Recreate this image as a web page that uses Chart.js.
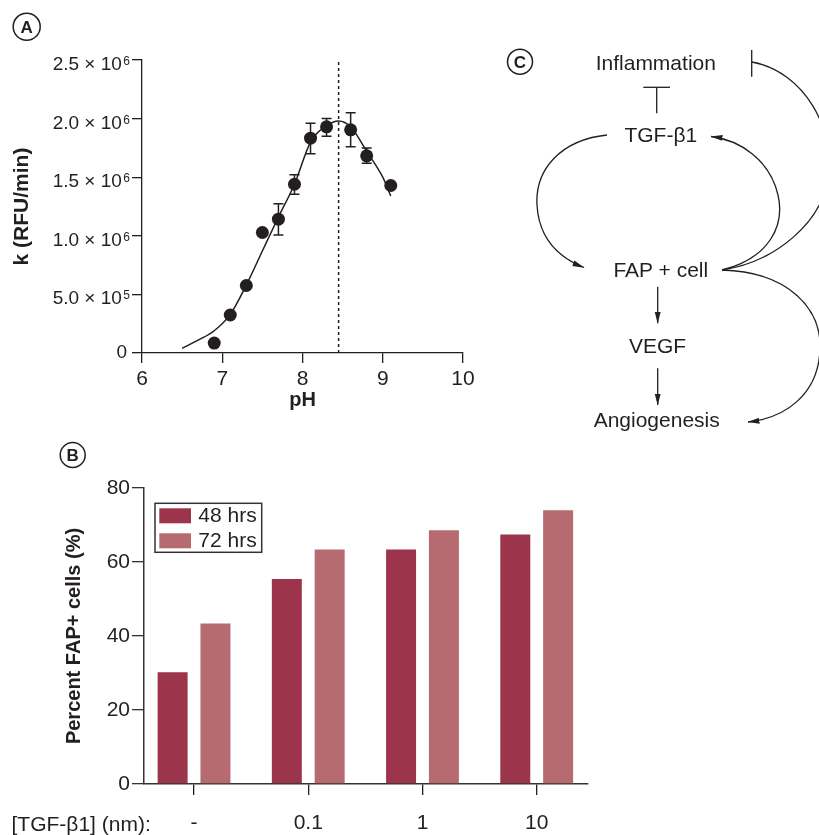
<!DOCTYPE html>
<html>
<head>
<meta charset="utf-8">
<script src="https://cdn.jsdelivr.net/npm/chart.js@4.4.1/dist/chart.umd.min.js"></script>
<style>
  body { margin: 0; background: #fff; }
  #page { position: relative; width: 819px; height: 835px; overflow: hidden; background: #fff; }
  #page canvas { position: absolute; left: 0; }
  #phChart { top: 0; }
  #fapChart { top: 440px; }
  #diagram { position: absolute; left: 0; top: 0; pointer-events: none; }
  #diagram text { font-family: "Liberation Sans", Arial, Helvetica, sans-serif; fill: #231f20; }
</style>
</head>
<body>
<div id="page">
  <canvas id="phChart" width="480" height="420"></canvas>
  <canvas id="fapChart" width="620" height="395"></canvas>

  <svg id="diagram" width="819" height="835" viewBox="0 0 819 835">
    <defs>
      <marker id="head" viewBox="0 0 12 12" refX="11.5" refY="6" markerWidth="12" markerHeight="12"
              markerUnits="userSpaceOnUse" orient="auto">
        <path d="M0,3 L12,6 L0,9 z" fill="#231f20"/>
      </marker>
    </defs>

    <!-- panel letters -->
    <g stroke="#231f20" stroke-width="1.5" fill="none">
      <circle cx="26.7" cy="26.7" r="13.5"/>
      <circle cx="72.7" cy="455" r="12.5"/>
      <circle cx="520" cy="61.7" r="12.5"/>
    </g>
    <g font-size="17" font-weight="bold" text-anchor="middle" dominant-baseline="central">
      <text x="26.7" y="27.5">A</text>
      <text x="72.7" y="455.8">B</text>
      <text x="520" y="62.5">C</text>
    </g>

    <!-- x label for panel B -->
    <text x="11.5" y="831" font-size="21">[TGF-β1] (nm):</text>

    <!-- panel C -->
    <g font-size="21" text-anchor="middle">
      <text x="655.8" y="70">Inflammation</text>
      <text x="660.8" y="141.7">TGF-β1</text>
      <text x="660.8" y="276.7">FAP + cell</text>
      <text x="657.5" y="353.3">VEGF</text>
      <text x="656.7" y="426.7">Angiogenesis</text>
    </g>
    <g stroke="#231f20" stroke-width="1.3" fill="none">
      <line x1="643.3" y1="87.3" x2="670" y2="87.3"/>
      <line x1="656.7" y1="87.3" x2="656.7" y2="113.3"/>
      <line x1="751.7" y1="50" x2="751.7" y2="76.7"/>
      <path d="M752,62 C805,72 835,130 828,175 C824,222 775,262 722,270"/>
      <path d="M722,270 C770,258 785,225 778,195 C770,160 740,140 711,136.5" marker-end="url(#head)"/>
      <path d="M607,135 C560,140 535,170 537,205 C539,240 560,258 584,267.5" marker-end="url(#head)"/>
      <path d="M722,270 C790,272 822,310 820,350 C818,395 785,418 748,422" marker-end="url(#head)"/>
      <line x1="657.7" y1="286.7" x2="657.7" y2="323.3" marker-end="url(#head)"/>
      <line x1="657.7" y1="368.3" x2="657.7" y2="405" marker-end="url(#head)"/>
    </g>
  </svg>
</div>

<script>
// Panel A: rate vs pH (measured points, error bars, fitted curve)
const phValues = [6.9, 7.1, 7.3, 7.5, 7.7, 7.9, 8.1, 8.3, 8.6, 8.8, 9.1];
const rateValues = [0.085e6, 0.324e6, 0.576e6, 1.028e6, 1.142e6, 1.44e6, 1.833e6, 1.93e6, 1.904e6, 1.682e6, 1.429e6];
const rateErrLow = [0, 0, 0, 0, 0.136e6, 0.085e6, 0.133e6, 0.08e6, 0.144e6, 0.062e6, 0];
const rateErrHigh = [0, 0, 0, 0, 0.131e6, 0.08e6, 0.127e6, 0.07e6, 0.146e6, 0.068e6, 0];
const fitPH = [6.5, 6.7, 6.9, 7.1, 7.3, 7.5, 7.7, 7.9, 8.1, 8.3, 8.45, 8.6, 8.8, 9.0, 9.1];
const fitRate = [0.04e6, 0.11e6, 0.19e6, 0.33e6, 0.58e6, 0.87e6, 1.16e6, 1.44e6, 1.80e6, 1.94e6, 1.98e6, 1.93e6, 1.72e6, 1.50e6, 1.34e6];
const optimumPH = 8.45;
const rateMax = 2.5e6;

// Panel B: percent FAP+ cells
const categories = ['-', '0.1', '1', '10'];
const hrs48 = [30.2, 55.4, 63.4, 67.4];
const hrs72 = [43.4, 63.4, 68.6, 74.0];

const ink = '#231f20';
const color48 = '#9c354c';
const color72 = '#b56b6f';

Chart.defaults.font.family = '"Liberation Sans", Arial, Helvetica, sans-serif';
Chart.defaults.color = ink;

const axisGrid = { drawOnChartArea: false, drawTicks: true, tickLength: 10, color: ink, lineWidth: 1.3 };
const axisBorder = { color: ink, width: 1.3 };

// y tick labels like 2.5×10⁶ with a real superscript
const sciTicks = {
    id: 'sciTicks',
    afterDraw(chart) {
        const scale = chart.scales.y;
        const ctx = chart.ctx;
        const right = scale.right - 12;
        ctx.save();
        ctx.fillStyle = ink;
        ctx.textAlign = 'right';
        scale.ticks.forEach(function (t) {
            const py = scale.getPixelForValue(t.value);
            if (t.value === 0) {
                ctx.font = '19px "Liberation Sans", Arial, sans-serif';
                ctx.textBaseline = 'middle';
                ctx.fillText('0', right - 3, py);
                return;
            }
            const exp = Math.floor(Math.log10(t.value) + 1e-9);
            const mant = (t.value / Math.pow(10, exp)).toFixed(1);
            ctx.textBaseline = 'alphabetic';
            ctx.font = '12px "Liberation Sans", Arial, sans-serif';
            ctx.fillText(String(exp), right, py + 5);
            const w = ctx.measureText(String(exp)).width;
            ctx.font = '19px "Liberation Sans", Arial, sans-serif';
            ctx.fillText(mant + ' × 10', right - w - 1.5, py + 10);
        });
        ctx.restore();
    }
};

const errorBars = {
    id: 'errorBars',
    beforeDatasetsDraw(chart) {
        const xs = chart.scales.x, ys = chart.scales.y, ctx = chart.ctx;
        ctx.save();
        ctx.strokeStyle = ink;
        ctx.lineWidth = 1.5;
        phValues.forEach(function (ph, i) {
            if (!rateErrLow[i] && !rateErrHigh[i]) return;
            const px = xs.getPixelForValue(ph);
            const top = ys.getPixelForValue(rateValues[i] + rateErrHigh[i]);
            const bot = ys.getPixelForValue(rateValues[i] - rateErrLow[i]);
            ctx.beginPath();
            ctx.moveTo(px, top); ctx.lineTo(px, bot);
            ctx.moveTo(px - 5, top); ctx.lineTo(px + 5, top);
            ctx.moveTo(px - 5, bot); ctx.lineTo(px + 5, bot);
            ctx.stroke();
        });
        ctx.restore();
    }
};

new Chart(document.getElementById('phChart'), {
    type: 'scatter',
    data: {
        datasets: [{
            label: 'k',
            data: phValues.map((x, i) => ({ x: x, y: rateValues[i] })),
            pointRadius: 6.5,
            pointBackgroundColor: ink,
            pointBorderWidth: 0,
            showLine: false
        }, {
            label: 'fit',
            data: fitPH.map((x, i) => ({ x: x, y: fitRate[i] })),
            showLine: true,
            pointRadius: 0,
            borderColor: ink,
            borderWidth: 1.5,
            cubicInterpolationMode: 'monotone'
        }, {
            label: 'optimum',
            data: [{ x: optimumPH, y: 0 }, { x: optimumPH, y: rateMax }],
            showLine: true,
            pointRadius: 0,
            borderColor: ink,
            borderWidth: 1.5,
            borderDash: [3, 3]
        }]
    },
    options: {
        responsive: false,
        animation: false,
        layout: { padding: { left: 0, top: 60, right: 17, bottom: 0 } },
        plugins: { legend: { display: false }, tooltip: { enabled: false } },
        scales: {
            x: {
                type: 'linear', min: 6, max: 10,
                afterFit: function (s) { s.height = 67; },
                ticks: { stepSize: 1, padding: 4, font: { size: 21 } },
                grid: axisGrid, border: axisBorder,
                title: { display: true, text: 'pH', font: { size: 20, weight: 'bold' }, padding: { top: 0, bottom: 8 } }
            },
            y: {
                min: 0, max: rateMax,
                afterFit: function (s) { s.width = 142; },
                ticks: { stepSize: 0.5e6, display: false },
                grid: axisGrid, border: axisBorder,
                title: { display: true, text: 'k (RFU/min)', font: { size: 21, weight: 'bold' }, padding: { top: 10, bottom: 0 } }
            }
        }
    },
    plugins: [errorBars, sciTicks]
});

// boxed legend inside the plot area
const boxLegend = {
    id: 'boxLegend',
    afterDraw(chart) {
        const ctx = chart.ctx, area = chart.chartArea;
        const bx = area.left + 11, by = area.top + 15.3;
        ctx.save();
        ctx.strokeStyle = '#333';
        ctx.lineWidth = 1.5;
        ctx.strokeRect(bx, by, 106.7, 49);
        ctx.font = '21px "Liberation Sans", Arial, sans-serif';
        ctx.textBaseline = 'middle';
        ctx.textAlign = 'left';
        chart.data.datasets.forEach(function (ds, i) {
            ctx.fillStyle = ds.backgroundColor;
            ctx.fillRect(bx + 4.3, by + 5 + i * 25, 31.7, 15);
            ctx.fillStyle = ink;
            ctx.fillText(ds.label, bx + 43.3, by + 13 + i * 25);
        });
        ctx.restore();
    }
};

new Chart(document.getElementById('fapChart'), {
    type: 'bar',
    data: {
        datasets: [{
            label: '48 hrs',
            data: hrs48.map((v, i) => ({ x: i, y: v })),
            backgroundColor: color48,
            categoryPercentage: 0.75,
            barPercentage: 0.7
        }, {
            label: '72 hrs',
            data: hrs72.map((v, i) => ({ x: i, y: v })),
            backgroundColor: color72,
            categoryPercentage: 0.75,
            barPercentage: 0.7
        }]
    },
    options: {
        responsive: false,
        animation: false,
        layout: { padding: { left: 0, top: 48, right: 32, bottom: 0 } },
        plugins: { legend: { display: false }, tooltip: { enabled: false } },
        scales: {
            x: {
                type: 'linear', min: -0.438, max: 3.449, offset: false,
                afterFit: function (s) { s.height = 51; },
                ticks: {
                    stepSize: 1, includeBounds: false, autoSkip: false, maxRotation: 0,
                    padding: 16, font: { size: 21 },
                    callback: function (v) { return categories[v] !== undefined ? categories[v] : ''; }
                },
                grid: Object.assign({}, axisGrid, { offset: false, tickLength: 11 }),
                border: { color: '#333', width: 1.5 }
            },
            y: {
                min: 0, max: 80,
                afterFit: function (s) { s.width = 144; },
                ticks: { stepSize: 20, padding: 2, font: { size: 21 } },
                grid: Object.assign({}, axisGrid, { tickLength: 12, color: '#333' }),
                border: { color: '#333', width: 1.5 },
                title: { display: true, text: 'Percent FAP+ cells (%)', font: { size: 20, weight: 'bold' }, padding: { top: 62, bottom: 0 } }
            }
        }
    },
    plugins: [boxLegend]
});
</script>
</body>
</html>
